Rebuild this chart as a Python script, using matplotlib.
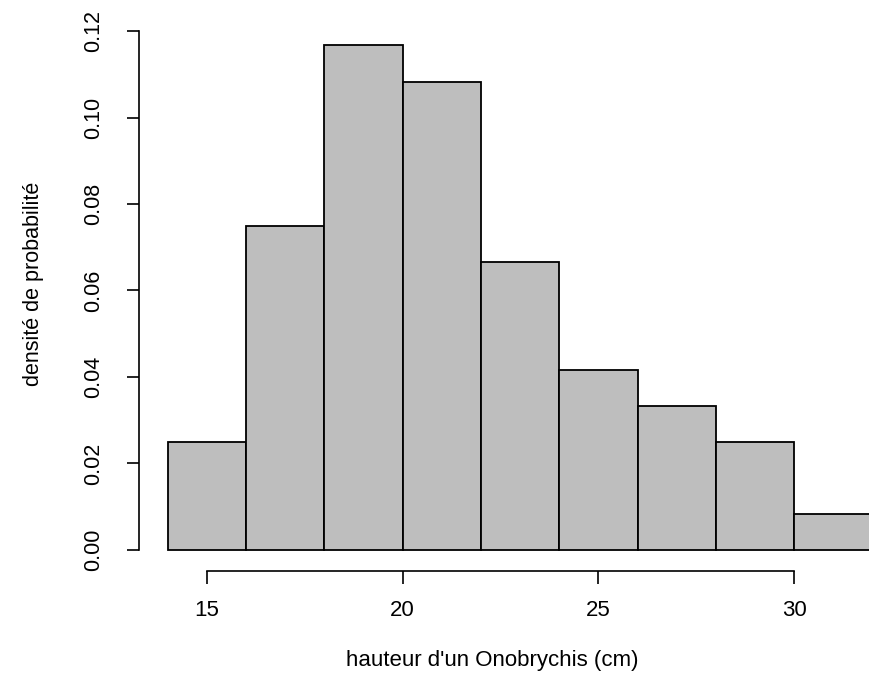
#!/usr/bin/env python3

import matplotlib
matplotlib.use('Agg')
import matplotlib.pyplot as plt

# histogram of plant heights (n = 60), density scale
bin_edges = [14, 16, 18, 20, 22, 24, 26, 28, 30, 32]
density = [0.025, 0.075, 0.1167, 0.1083, 0.0667, 0.0417, 0.0333, 0.025, 0.0083]
x_ticks = [15, 20, 25, 30]
y_ticks = [0.00, 0.02, 0.04, 0.06, 0.08, 0.10, 0.12]
y_tick_labels = ['0.00', '0.02', '0.04', '0.06', '0.08', '0.10', '0.12']


def main():
    plt.rcParams['font.family'] = ['Liberation Sans', 'DejaVu Sans']

    fig = plt.figure(figsize=(8.7, 6.79), dpi=100)
    ax = fig.add_axes([0, 0, 1, 1])
    ax.patch.set_visible(False)

    widths = [b - a for a, b in zip(bin_edges[:-1], bin_edges[1:])]
    ax.bar(bin_edges[:-1], density, width=widths, align='edge',
           color='#bebebe', edgecolor='black', linewidth=1.3)

    ax.set_xlim(9.71, 31.94)
    ax.set_ylim(-0.02983, 0.12717)

    # R-style detached axes
    for side in ['top', 'right']:
        ax.spines[side].set_visible(False)
    ax.spines['left'].set_position(('data', 13.26))
    ax.spines['left'].set_bounds(0, 0.12)
    ax.spines['bottom'].set_position(('data', -0.00486))
    ax.spines['bottom'].set_bounds(15, 30)
    ax.spines['left'].set_linewidth(1.2)
    ax.spines['bottom'].set_linewidth(1.2)

    ax.set_xticks(x_ticks)
    ax.set_yticks(y_ticks)
    ax.set_yticklabels(y_tick_labels)
    ax.tick_params(axis='both', direction='out', length=9, width=1.2,
                   colors='black')
    ax.tick_params(axis='x', pad=12, labelsize=16)
    ax.tick_params(axis='y', pad=16, labelsize=15.5, labelrotation=90)
    for lbl in ax.get_yticklabels():
        lbl.set_verticalalignment('center')

    fig.text(0.5655, 0.027, "hauteur d'un Onobrychis (cm)", ha='center',
             va='center', fontsize=16)
    fig.text(0.038, 0.5825, 'densité de probabilité', ha='center',
             va='center', rotation=90, fontsize=15.5)

    fig.savefig('out.png', dpi=100)


if __name__ == '__main__':
    main()
